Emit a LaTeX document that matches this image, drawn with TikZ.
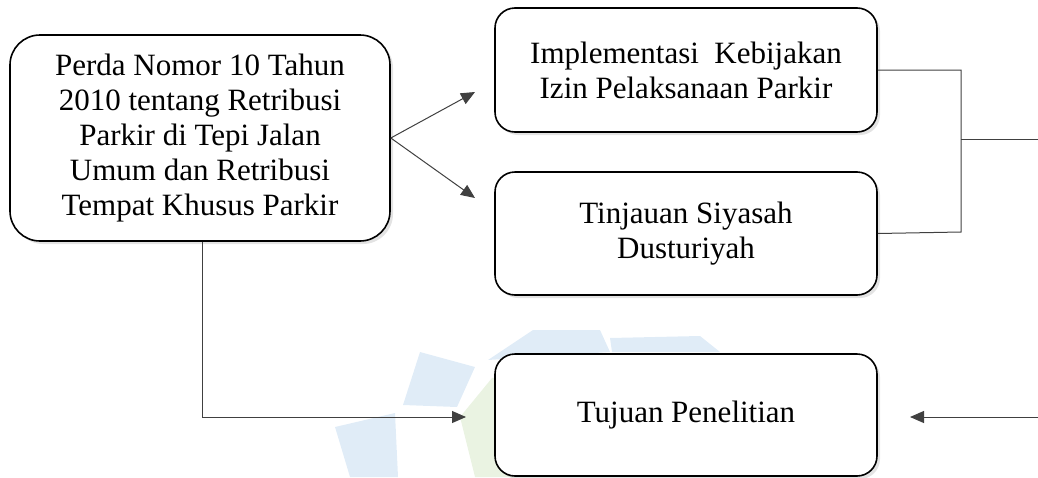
\documentclass[tikz,border=0pt]{standalone}
\usepackage{fontspec}
\setmainfont{Liberation Serif}
\usetikzlibrary{arrows.meta,shadows}
\begin{document}
\begin{tikzpicture}[x=1pt,y=-1pt,
  box/.style={draw=black, line width=1.6pt, fill=white, align=center,
    font=\fontsize{31}{35}\selectfont, inner sep=0pt,
    drop shadow={opacity=0.22, shadow xshift=3pt, shadow yshift=-3pt}},
  link/.style={draw=black!75, line width=1pt},
  arr/.style={link, -{Triangle[length=14pt,width=12pt]}},
  wblue/.style={fill={rgb,255:red,224;green,236;blue,247}, draw=none},
  wgreen/.style={fill={rgb,255:red,234;green,243;blue,226}, draw=none}]
\useasboundingbox (0,0) rectangle (1038,477);
% faint watermark
\fill[wblue] (420,352) -- (475,367) -- (457,407) -- (403,405) -- cycle;
\fill[wblue] (335,427) -- (395,413) -- (398,477) -- (350,477) -- cycle;
\fill[wblue] (488,360) -- (533,330) -- (600,330) -- (610,352) -- cycle;
\fill[wblue] (610,338) -- (700,336) -- (720,352) -- (612,352) -- cycle;
\fill[wgreen] (460,417) -- (492,378) -- (560,370) -- (560,477) -- (475,477) -- cycle;
% nodes
\node[box, rounded corners=30pt, minimum width=380pt, minimum height=206pt] (A) at (200,138)
  {Perda Nomor 10 Tahun\\2010 tentang Retribusi\\Parkir di Tepi Jalan\\Umum dan Retribusi\\Tempat Khusus Parkir};
\node[box, rounded corners=20pt, minimum width=382pt, minimum height=124pt] (B) at (686,70)
  {Implementasi\ \ Kebijakan\\Izin Pelaksanaan Parkir};
\node[box, rounded corners=20pt, minimum width=382pt, minimum height=123pt] (C) at (686,233.5)
  {Tinjauan Siyasah\\Dusturiyah};
\node[box, rounded corners=20pt, minimum width=382pt, minimum height=122pt] (D) at (686,415)
  {Tujuan Penelitian};
% coordinates
\coordinate (a1) at (475,92);
\coordinate (a2) at (475,198);
\coordinate (dl) at (202,417);
\coordinate (dt) at (466,417);
\coordinate (j1) at (961,70);
\coordinate (j2) at (961,232);
\coordinate (jm) at (961,139);
\coordinate (out) at (1038,139);
\coordinate (in) at (1038,417);
\coordinate (it) at (910,417);
% connectors
\draw[arr] (A.east) -- (a1);
\draw[arr] (A.east) -- (a2);
\draw[arr] (A.south -| dl) -- (dl) -- (dt);
\draw[link] (B.east) -- (j1) -- (j2) -- (C.east);
\draw[link] (jm) -- (out);
\draw[arr] (in) -- (it);
\end{tikzpicture}
\end{document}
